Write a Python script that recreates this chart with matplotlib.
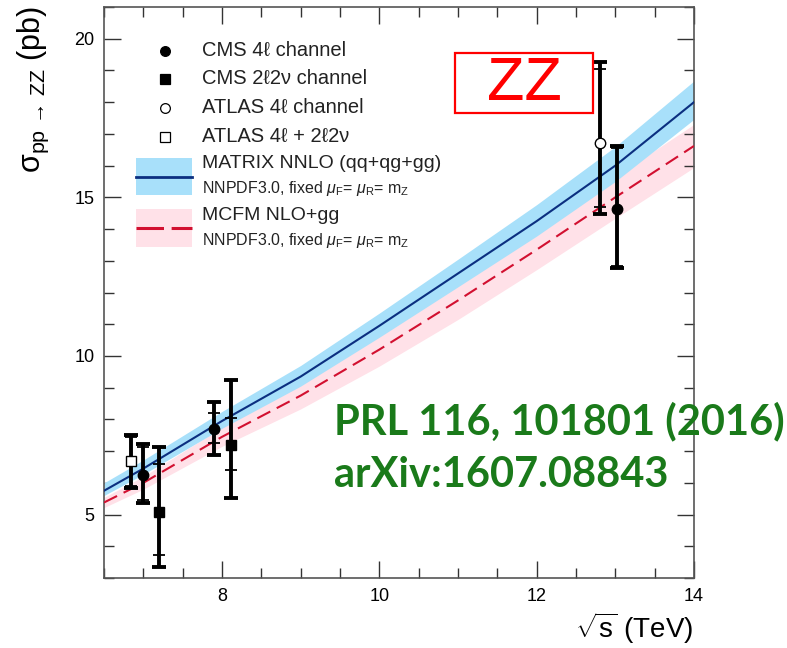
import matplotlib
matplotlib.use("Agg")
import matplotlib.pyplot as plt
from matplotlib.patches import Rectangle
from matplotlib.lines import Line2D

plt.rcParams['font.family'] = ['Liberation Sans', 'DejaVu Sans']
plt.rcParams['mathtext.fontset'] = 'custom'
plt.rcParams['mathtext.rm'] = 'Liberation Sans'
plt.rcParams['mathtext.it'] = 'Liberation Sans:italic'
plt.rcParams['mathtext.sf'] = 'Liberation Sans'

# theory curves (sqrt(s) in TeV, sigma in pb)
sqrt_s = [6.5, 7, 8, 9, 10, 11, 12, 13, 14]
matrix_nnlo = [5.75, 6.45, 7.95, 9.35, 10.95, 12.6, 14.25, 16.0, 18.0]
matrix_up = [0.25, 0.27, 0.3, 0.35, 0.4, 0.45, 0.52, 0.6, 0.67]
matrix_down = [0.15, 0.18, 0.23, 0.3, 0.36, 0.42, 0.47, 0.5, 0.54]
mcfm_nlo = [5.38, 6.0, 7.45, 8.75, 10.2, 11.75, 13.35, 15.0, 16.62]
mcfm_err = [0.16, 0.2, 0.3, 0.42, 0.52, 0.6, 0.63, 0.66, 0.68]

# measurements (x shifted for visibility as in the original)
cms4l_x = [7.0, 7.9, 13.02]
cms4l_y = [6.24, 7.70, 14.62]
cms4l_tot = [[0.87, 0.81, 1.84], [0.97, 0.84, 2.0]]
cms4l_stat = [[0.79, 0.46, 1.78], [0.88, 0.51, 1.92]]

cms2l2v_x = [7.2, 8.12]
cms2l2v_y = [5.08, 7.2]
cms2l2v_tot = [[1.74, 1.67], [2.05, 2.05]]
cms2l2v_stat = [[1.37, 0.8], [1.51, 0.85]]

atlas4l_x = [12.81]
atlas4l_y = [16.7]
atlas4l_tot = [[2.24], [2.58]]
atlas4l_stat = [[2.0], [2.35]]

atlas_comb_x = [6.84]
atlas_comb_y = [6.70]
atlas_comb_tot = [[0.85], [0.82]]
atlas_comb_stat = [[0.8], [0.73]]

blue_band = '#a8e0fa'
blue_line = '#0b2f80'
pink_band = '#ffe1e8'
red_line = '#d21030'

fig = plt.figure(figsize=(7.87, 6.48), dpi=100)
ax = fig.add_axes([104 / 787, 1 - 578 / 648, 590 / 787, 571 / 648])

lo = [c - e for c, e in zip(mcfm_nlo, mcfm_err)]
hi = [c + e for c, e in zip(mcfm_nlo, mcfm_err)]
ax.fill_between(sqrt_s, lo, hi, color=pink_band, lw=0, zorder=1)
lo = [c - e for c, e in zip(matrix_nnlo, matrix_down)]
hi = [c + e for c, e in zip(matrix_nnlo, matrix_up)]
ax.fill_between(sqrt_s, lo, hi, color=blue_band, lw=0, zorder=2)
ax.plot(sqrt_s, mcfm_nlo, color=red_line, lw=1.5, dashes=(7, 3.5), zorder=3)
ax.plot(sqrt_s, matrix_nnlo, color=blue_line, lw=1.5, zorder=4)


def points(x, y, tot, stat, marker, face, ms):
    ax.errorbar(x, y, yerr=tot, fmt='none', ecolor='black', elinewidth=2.8,
                capsize=4.8, capthick=2.8, zorder=5)
    ax.errorbar(x, y, yerr=stat, fmt='none', ecolor='black', elinewidth=0,
                capsize=4.2, capthick=1.3, zorder=5)
    ax.plot(x, y, ls='none', marker=marker, ms=ms, mfc=face, mec='black',
            mew=1.0, zorder=6)


points(cms4l_x, cms4l_y, cms4l_tot, cms4l_stat, 'o', 'black', 7.5)
points(cms2l2v_x, cms2l2v_y, cms2l2v_tot, cms2l2v_stat, 's', 'black', 7)
points(atlas4l_x, atlas4l_y, atlas4l_tot, atlas4l_stat, 'o', 'white', 7.5)
points(atlas_comb_x, atlas_comb_y, atlas_comb_tot, atlas_comb_stat, 's', 'white', 7)

ax.set_xlim(6.5, 14)
ax.set_ylim(3, 21)
ax.set_xticks([8, 10, 12, 14])
ax.set_xticks([x / 2 for x in range(13, 29)], minor=True)
ax.set_yticks([5, 10, 15, 20])
ax.set_yticks(range(3, 22), minor=True)
ax.tick_params(which='both', direction='in', top=True, right=True,
               labelsize=13, color='#333333', pad=7)
ax.tick_params(which='major', length=12.5, width=1.0)
ax.tick_params(which='minor', length=7, width=1.0)
for sp in ax.spines.values():
    sp.set_color('#555555')
    sp.set_linewidth(1.2)

fig.text(693 / 787, 1 - 628 / 648, r'$\sqrt{\mathrm{s}}$ (TeV)', ha='right',
         va='center', fontsize=20)
fig.text(33 / 787, 1 - 6 / 648,
         r'σ$_{\mathrm{pp}\,\rightarrow\,\mathrm{ZZ}}$ (pb)', rotation=90,
         ha='center', va='top', fontsize=22)

# legend drawn by hand, ROOT style
def fx(px):
    return (px - 104) / 590


def fy(py):
    return (578 - py) / 571


rows = [(50.7, 'o', 'black', 'CMS 4ℓ channel'),
        (79, 's', 'black', 'CMS 2ℓ2ν channel'),
        (107.7, 'o', 'white', 'ATLAS 4ℓ channel'),
        (136.7, 's', 'white', 'ATLAS 4ℓ + 2ℓ2ν')]
for py, mk, face, label in rows:
    ax.plot([fx(165)], [fy(py)], marker=mk, ms=7 if mk == 'o' else 6.5,
            mfc=face, mec='black', mew=0.9, transform=ax.transAxes,
            clip_on=False, zorder=7)
    ax.text(fx(202), fy(py), label, transform=ax.transAxes, fontsize=14.5,
            va='center', ha='left', color='#222222')

sub = r'NNPDF3.0, fixed $\mu_{\mathrm{F}}$= $\mu_{\mathrm{R}}$= m$_{\mathrm{Z}}$'
ax.add_patch(Rectangle((fx(136), fy(195)), fx(192) - fx(136), fy(158) - fy(195),
                       transform=ax.transAxes, color=blue_band, lw=0, zorder=7))
ax.add_line(Line2D([fx(136), fx(192)], [fy(176.7)] * 2, color=blue_line, lw=2,
                   transform=ax.transAxes, zorder=8))
ax.text(fx(202), fy(164), 'MATRIX NNLO (qq+qg+gg)', transform=ax.transAxes,
        fontsize=14, va='center', color='#222222')
ax.text(fx(202), fy(188), sub, transform=ax.transAxes, fontsize=11.5,
        va='center', color='#222222')
ax.add_patch(Rectangle((fx(136), fy(247)), fx(192) - fx(136), fy(209) - fy(247),
                       transform=ax.transAxes, color=pink_band, lw=0, zorder=7))
ax.add_line(Line2D([fx(136), fx(192)], [fy(228)] * 2, color=red_line, lw=2.2,
                   dashes=(9, 2.5), transform=ax.transAxes, zorder=8))
ax.text(fx(202), fy(216), 'MCFM NLO+gg', transform=ax.transAxes,
        fontsize=14, va='center', color='#222222')
ax.text(fx(202), fy(240), sub, transform=ax.transAxes, fontsize=11.5,
        va='center', color='#222222')

# annotations
fig.patches.append(Rectangle((455 / 787, 1 - 113 / 648), 138 / 787, 60 / 648,
                             transform=fig.transFigure, fill=False,
                             edgecolor='red', lw=1.6))
fig.text(524 / 787, 1 - 84 / 648, 'ZZ', color='red', fontsize=44,
         ha='center', va='center')
green = '#1a7a1a'
fig.text(334 / 787, 1 - 421 / 648, 'PRL 116, 101801 (2016)', color=green,
         fontsize=30, fontweight='bold', family=['Lato', 'DejaVu Sans'],
         ha='left', va='center')
fig.text(334 / 787, 1 - 475 / 648, 'arXiv:1607.08843', color=green,
         fontsize=30, fontweight='bold', family=['Lato', 'DejaVu Sans'],
         ha='left', va='center')

fig.savefig('out.png', dpi=100)
